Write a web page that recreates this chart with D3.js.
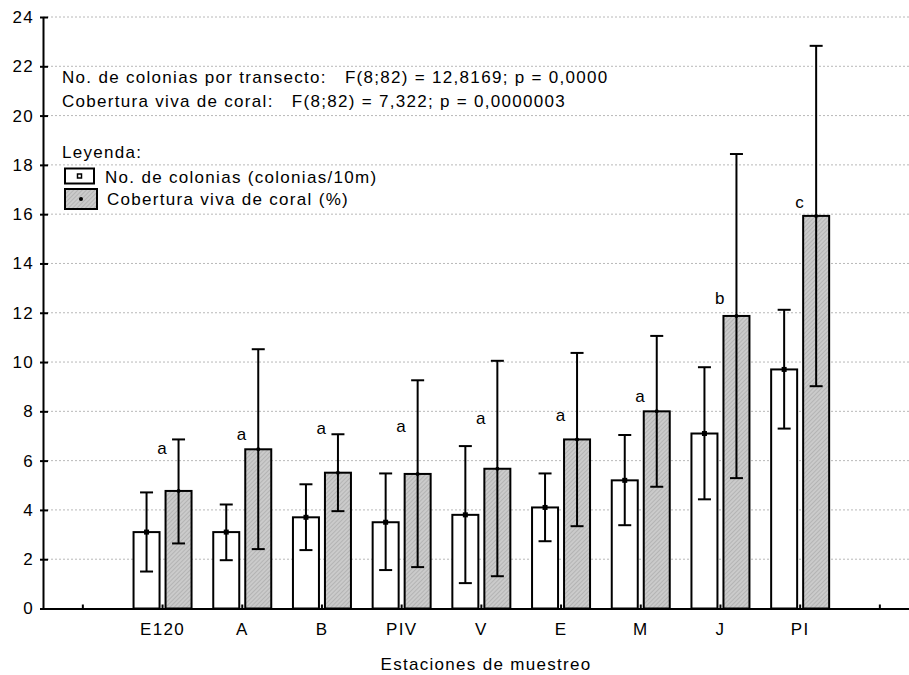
<!DOCTYPE html>
<html>
<head>
<meta charset="utf-8">
<script src="https://cdn.jsdelivr.net/npm/d3@7"></script>
<style>
  body { margin: 0; background: #fff; }
  svg text { font-family: "Liberation Sans", Arial, sans-serif; font-size: 17px; letter-spacing: 1.3px; fill: #000; }
</style>
</head>
<body>
<div class="chart"></div>
<script>
// estaciones y valores
const stations = ["E120", "A", "B", "PIV", "V", "E", "M", "J", "PI"];

const colMean = [3.1, 3.1, 3.7, 3.5, 3.8, 4.1, 5.2, 7.1, 9.7];
const colLow = [1.5, 1.96, 2.37, 1.56, 1.03, 2.73, 3.38, 4.43, 7.3];
const colHigh = [4.71, 4.22, 5.04, 5.48, 6.59, 5.48, 7.04, 9.79, 12.12];

const covMean = [4.77, 6.46, 5.51, 5.46, 5.67, 6.86, 8.0, 11.87, 15.93];
const covLow = [2.64, 2.41, 3.95, 1.68, 1.31, 3.34, 4.94, 5.29, 9.02];
const covHigh = [6.86, 10.52, 7.07, 9.26, 10.05, 10.37, 11.06, 18.44, 22.83];

const groupLetters = ["a", "a", "a", "a", "a", "a", "a", "b", "c"];
const letterLevel = [6.25, 6.82, 7.1, 7.18, 7.47, 7.59, 8.36, 12.37, 16.27];

const yTicks = [0, 2, 4, 6, 8, 10, 12, 14, 16, 18, 20, 22, 24];

const statLines = [
    "No. de colonias por transecto:   F(8;82) = 12,8169; p = 0,0000",
    "Cobertura viva de coral:   F(8;82) = 7,322; p = 0,0000003"
];
const legendTitle = "Leyenda:";
const legendLabels = ["No. de colonias (colonias/10m)", "Cobertura viva de coral (%)"];
const xTitle = "Estaciones de muestreo";

var width = 909,
    height = 675,
    left = 43,
    slot = 79.7;

var svg = d3.select('.chart')
    .append('svg')
    .attr("width", width)
    .attr("height", height);

// trama diagonal de las barras grises
var pat = svg.append("defs").append("pattern")
    .attr("id", "hatch")
    .attr("patternUnits", "userSpaceOnUse")
    .attr("width", 3)
    .attr("height", 3)
    .attr("patternTransform", "rotate(45)");
pat.append("rect").attr("width", 3).attr("height", 3).attr("fill", "#cbcbcb");
pat.append("line").attr("x1", 0).attr("y1", 0).attr("x2", 0).attr("y2", 3)
    .attr("stroke", "#a5a5a5").attr("stroke-width", 1.2);

// una posicion vacia a cada lado
var slots = ["_ini"].concat(stations, ["_fin"]);

var x = d3.scaleBand()
    .domain(slots)
    .range([left, left + slots.length * slot]);

var y = d3.scaleLinear()
    .domain([0, 24])
    .range([608.5, 17]);

var cx = function (s) { return x(s) + x.bandwidth() / 2; };

// rejilla punteada
svg.append("g")
    .selectAll("line")
    .data(yTicks.filter(function (d) { return d > 0; }))
    .enter()
    .append("line")
    .attr("x1", left)
    .attr("x2", width)
    .attr("y1", function (d) { return y(d); })
    .attr("y2", function (d) { return y(d); })
    .attr("stroke", "#b8b8b8")
    .attr("stroke-width", 1)
    .attr("stroke-dasharray", "2,2");

var data = stations.map(function (s, i) {
    return {
        station: s,
        colMean: colMean[i], colLow: colLow[i], colHigh: colHigh[i],
        covMean: covMean[i], covLow: covLow[i], covHigh: covHigh[i],
        letter: groupLetters[i], letterLevel: letterLevel[i]
    };
});

var barW = 26,
    off = 16;

var g = svg.selectAll(".station")
    .data(data)
    .enter()
    .append("g")
    .attr("class", "station");

// barras blancas (colonias)
g.append("rect")
    .attr("x", function (d) { return cx(d.station) - off - barW / 2; })
    .attr("y", function (d) { return y(d.colMean); })
    .attr("width", barW)
    .attr("height", function (d) { return y(0) - y(d.colMean); })
    .attr("fill", "#fff")
    .attr("stroke", "#000")
    .attr("stroke-width", 2);

// barras grises (cobertura)
g.append("rect")
    .attr("x", function (d) { return cx(d.station) + off - barW / 2; })
    .attr("y", function (d) { return y(d.covMean); })
    .attr("width", barW)
    .attr("height", function (d) { return y(0) - y(d.covMean); })
    .attr("fill", "url(#hatch)")
    .attr("stroke", "#000")
    .attr("stroke-width", 2);

var drawError = function (sel, dx, lowKey, highKey) {
    sel.append("line")
        .attr("x1", function (d) { return cx(d.station) + dx; })
        .attr("x2", function (d) { return cx(d.station) + dx; })
        .attr("y1", function (d) { return y(d[lowKey]); })
        .attr("y2", function (d) { return y(d[highKey]); })
        .attr("stroke", "#000").attr("stroke-width", 2);
    [lowKey, highKey].forEach(function (k) {
        sel.append("line")
            .attr("x1", function (d) { return cx(d.station) + dx - 6.5; })
            .attr("x2", function (d) { return cx(d.station) + dx + 6.5; })
            .attr("y1", function (d) { return y(d[k]); })
            .attr("y2", function (d) { return y(d[k]); })
            .attr("stroke", "#000").attr("stroke-width", 2);
    });
};

drawError(g, -off, "colLow", "colHigh");
drawError(g, off, "covLow", "covHigh");

// marcadores de la media
g.append("rect")
    .attr("x", function (d) { return cx(d.station) - off - 2.5; })
    .attr("y", function (d) { return y(d.colMean) - 2.5; })
    .attr("width", 5)
    .attr("height", 5)
    .attr("fill", "#000");

g.append("circle")
    .attr("cx", function (d) { return cx(d.station) + off; })
    .attr("cy", function (d) { return y(d.covMean); })
    .attr("r", 2)
    .attr("fill", "#000");

// letras de grupos homogeneos
g.append("text")
    .attr("x", function (d) { return cx(d.station); })
    .attr("y", function (d) { return y(d.letterLevel); })
    .attr("text-anchor", "middle")
    .text(function (d) { return d.letter; });

// ejes
var xAxis = d3.axisBottom(x)
    .tickSizeInner(-4)
    .tickSizeOuter(0)
    .tickPadding(14)
    .tickFormat(function (d) { return d.charAt(0) === "_" ? "" : d; });

svg.append("g")
    .attr("class", "x-axis")
    .attr("transform", "translate(0," + y(0) + ")")
    .call(xAxis);

var yAxis = d3.axisLeft(y)
    .tickValues(yTicks)
    .tickSizeInner(-5)
    .tickSizeOuter(0)
    .tickPadding(9);

svg.append("g")
    .attr("class", "y-axis")
    .attr("transform", "translate(" + left + ",0)")
    .call(yAxis);

svg.selectAll(".x-axis path, .y-axis path, .x-axis line, .y-axis line")
    .attr("stroke", "#000")
    .attr("stroke-width", 2);
svg.selectAll(".x-axis text, .y-axis text")
    .attr("font-size", 17)
    .attr("font-family", null)
    .attr("fill", "#000");
svg.selectAll(".y-axis line").attr("x1", -3);

// textos estadisticos
svg.append("g")
    .selectAll("text")
    .data(statLines)
    .enter()
    .append("text")
    .attr("x", 62)
    .attr("y", function (d, i) { return 83 + i * 23.5; })
    .style("white-space", "pre")
    .text(function (d) { return d; });

// leyenda
svg.append("text")
    .attr("x", 62)
    .attr("y", 158)
    .text(legendTitle);

svg.append("rect")
    .attr("x", 65).attr("y", 168.5)
    .attr("width", 29).attr("height", 15)
    .attr("fill", "#fff").attr("stroke", "#000").attr("stroke-width", 2);
svg.append("rect")
    .attr("x", 77.5).attr("y", 174)
    .attr("width", 4).attr("height", 4)
    .attr("fill", "#fff").attr("stroke", "#000").attr("stroke-width", 1.5);

svg.append("rect")
    .attr("x", 65).attr("y", 189)
    .attr("width", 32).attr("height", 20)
    .attr("fill", "url(#hatch)").attr("stroke", "#000").attr("stroke-width", 2);
svg.append("circle")
    .attr("cx", 81).attr("cy", 199)
    .attr("r", 2).attr("fill", "#000");

svg.append("g")
    .selectAll("text")
    .data(legendLabels)
    .enter()
    .append("text")
    .attr("x", function (d, i) { return i === 0 ? 105 : 107; })
    .attr("y", function (d, i) { return 183 + i * 22; })
    .text(function (d) { return d; });

// titulo del eje x
svg.append("text")
    .attr("x", 486)
    .attr("y", 670)
    .attr("text-anchor", "middle")
    .text(xTitle);
</script>
</body>
</html>
